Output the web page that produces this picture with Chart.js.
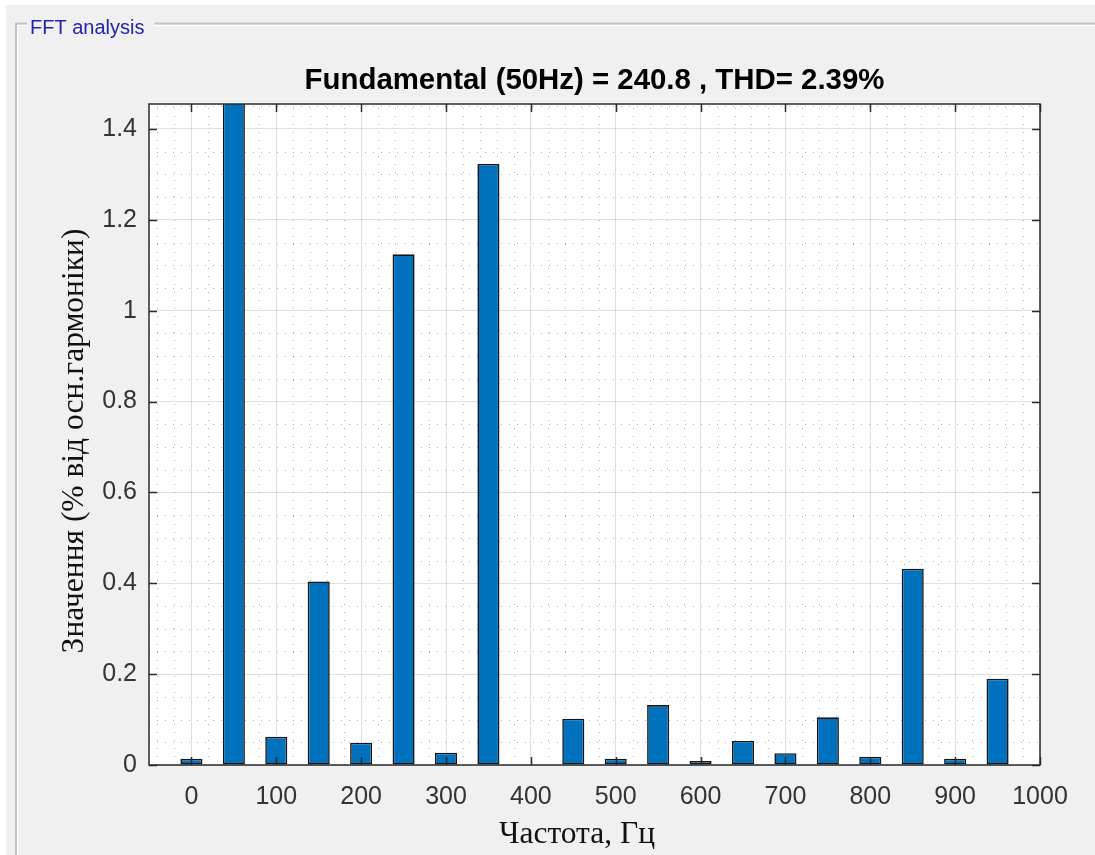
<!DOCTYPE html>
<html>
<head>
<meta charset="utf-8">
<script src="https://cdn.jsdelivr.net/npm/chart.js@4.4.1/dist/chart.umd.min.js"></script>
<style>
  html, body { margin: 0; padding: 0; background: #f0f0f0; overflow: hidden; }
  canvas { display: block; }
</style>
</head>
<body>
<canvas id="fft" width="1095" height="855"></canvas>
<script>
// Harmonic spectrum, in % of the fundamental (the 50 Hz bar is the fundamental itself)
const frequencies = [0, 50, 100, 150, 200, 250, 300, 350, 400, 450, 500, 550, 600, 650, 700, 750, 800, 850, 900, 950];
const harmonicPercent = [0.014, 100, 0.062, 0.404, 0.049, 1.124, 0.027, 1.323, 0, 0.102,
                         0.014, 0.132, 0.009, 0.053, 0.026, 0.105, 0.018, 0.432, 0.014, 0.19];
const xTicks = [0, 100, 200, 300, 400, 500, 600, 700, 800, 900, 1000];
const yTicks = [0, 0.2, 0.4, 0.6, 0.8, 1, 1.2, 1.4];

const panelLabel = 'FFT analysis';
const titleText = 'Fundamental (50Hz) = 240.8 , THD= 2.39%';
const xLabel = 'Частота, Гц';
const yLabel = 'Значення (% від осн.гармоніки)';

const SANS = '"Liberation Sans", Arial, Helvetica, sans-serif';
const SERIF = '"Liberation Serif", "Times New Roman", serif';
const AXIS_COLOR = '#2b2b2b';

// Panel background, etched frame and its caption; white axes background
const panelFrame = {
  id: 'panelFrame',
  beforeDraw(chart) {
    const { ctx, chartArea: a } = chart;
    const W = chart.width, H = chart.height;
    ctx.save();
    ctx.fillStyle = '#ffffff';
    ctx.fillRect(0, 0, W, H);
    ctx.fillStyle = '#f0f0f0';
    ctx.fillRect(6, 5, W - 6, H - 5);

    ctx.font = '20px ' + SANS;
    const tw = ctx.measureText(panelLabel).width;
    const gapStart = 27, gapEnd = 30 + tw + 10;

    ctx.lineWidth = 2;
    ctx.strokeStyle = '#c2c2c2';
    ctx.beginPath();
    ctx.moveTo(16, H); ctx.lineTo(16, 23.5); ctx.lineTo(gapStart, 23.5);
    ctx.moveTo(gapEnd, 23.5); ctx.lineTo(W + 5, 23.5);
    ctx.stroke();
    ctx.lineWidth = 1;
    ctx.strokeStyle = '#ffffff';
    ctx.beginPath();
    ctx.moveTo(17.5, H); ctx.lineTo(17.5, 25.5); ctx.lineTo(gapStart, 25.5);
    ctx.moveTo(gapEnd, 25.5); ctx.lineTo(W + 5, 25.5);
    ctx.stroke();

    ctx.fillStyle = '#2424a8';
    ctx.textBaseline = 'alphabetic';
    ctx.textAlign = 'left';
    ctx.fillText(panelLabel, 30, 34);

    ctx.fillStyle = '#ffffff';
    ctx.fillRect(a.left, a.top, a.right - a.left, a.bottom - a.top);
    ctx.restore();
  }
};

// Dotted minor grid (every 20 Hz and every 0.05 %)
const minorGrid = {
  id: 'minorGrid',
  beforeDatasetsDraw(chart) {
    const { ctx, chartArea: a, scales: { x, y } } = chart;
    ctx.save();
    ctx.beginPath();
    ctx.rect(a.left, a.top, a.right - a.left, a.bottom - a.top);
    ctx.clip();
    ctx.strokeStyle = 'rgba(0,0,0,0.32)';
    ctx.lineWidth = 1;
    ctx.setLineDash([1, 7]);
    ctx.beginPath();
    for (let i = -2; i < 50; i++) {
      const v = i * 20;
      if (v % 100 === 0) continue;
      const px = Math.round(x.getPixelForValue(v)) + 0.5;
      ctx.moveTo(px, a.bottom); ctx.lineTo(px, a.top);
    }
    for (let i = 1; i < 30; i++) {
      if (i % 4 === 0) continue;
      const py = Math.round(y.getPixelForValue(i * 0.05)) + 0.5;
      ctx.moveTo(a.left, py); ctx.lineTo(a.right, py);
    }
    ctx.stroke();
    ctx.restore();
  }
};

// Axes box with inward tick marks on all four sides, then title and axis labels
const axesBox = {
  id: 'axesBox',
  afterDatasetsDraw(chart) {
    const { ctx, chartArea: a, scales: { x, y } } = chart;
    const tl = 8;
    ctx.save();
    ctx.strokeStyle = AXIS_COLOR;
    ctx.lineWidth = 1.5;
    ctx.beginPath();
    x.ticks.forEach(t => {
      const px = Math.round(x.getPixelForValue(t.value)) + 0.5;
      ctx.moveTo(px, a.bottom); ctx.lineTo(px, a.bottom - tl);
      ctx.moveTo(px, a.top); ctx.lineTo(px, a.top + tl);
    });
    y.ticks.forEach(t => {
      const py = Math.round(y.getPixelForValue(t.value)) + 0.5;
      ctx.moveTo(a.left, py); ctx.lineTo(a.left + tl, py);
      ctx.moveTo(a.right, py); ctx.lineTo(a.right - tl, py);
    });
    ctx.stroke();
    ctx.strokeRect(a.left, a.top, a.right - a.left, a.bottom - a.top);
    ctx.restore();
  },
  afterDraw(chart) {
    const { ctx, chartArea: a } = chart;
    ctx.save();
    ctx.fillStyle = '#000000';
    ctx.textAlign = 'center';
    ctx.textBaseline = 'alphabetic';
    ctx.font = 'bold 29.4px ' + SANS;
    ctx.fillText(titleText, (a.left + a.right) / 2, 88.5);

    ctx.fillStyle = '#111111';
    ctx.font = '31.5px ' + SERIF;
    ctx.fillText(xLabel, 577, 843);

    ctx.translate(83, 441);
    ctx.rotate(-Math.PI / 2);
    ctx.fillText(yLabel, 0, 0);
    ctx.restore();
  }
};

new Chart(document.getElementById('fft'), {
  type: 'bar',
  data: {
    datasets: [{
      data: frequencies.map((f, i) => ({ x: f, y: harmonicPercent[i] })),
      backgroundColor: '#0072bd',
      borderColor: '#151515',
      borderWidth: 1.6,
      borderSkipped: false,
      barPercentage: 0.52,
      categoryPercentage: 1
    }]
  },
  options: {
    responsive: false,
    animation: false,
    devicePixelRatio: 1,
    layout: { padding: { left: 0, top: 104, right: 55, bottom: 0 } },
    plugins: { legend: { display: false }, tooltip: { enabled: false }, title: { display: false } },
    scales: {
      x: {
        type: 'linear',
        offset: false,
        min: -50,
        max: 1000,
        afterBuildTicks: s => { s.ticks = xTicks.map(v => ({ value: v })); },
        afterFit: s => { s.height = 90; },
        ticks: {
          callback: v => String(v),
          color: '#333333',
          padding: 17,
          maxRotation: 0,
          autoSkip: false,
          font: { family: SANS, size: 25 }
        },
        grid: { offset: false, color: 'rgba(38,38,38,0.15)', lineWidth: 1, drawTicks: false },
        border: { display: false }
      },
      y: {
        type: 'linear',
        min: 0,
        max: 1.455,
        afterBuildTicks: s => { s.ticks = yTicks.map(v => ({ value: v })); },
        afterFit: s => { s.width = 149; },
        ticks: {
          callback: v => String(v),
          color: '#333333',
          padding: 12,
          autoSkip: false,
          font: { family: SANS, size: 25 }
        },
        grid: { color: 'rgba(38,38,38,0.15)', lineWidth: 1, drawTicks: false },
        border: { display: false }
      }
    }
  },
  plugins: [panelFrame, minorGrid, axesBox]
});
</script>
</body>
</html>
